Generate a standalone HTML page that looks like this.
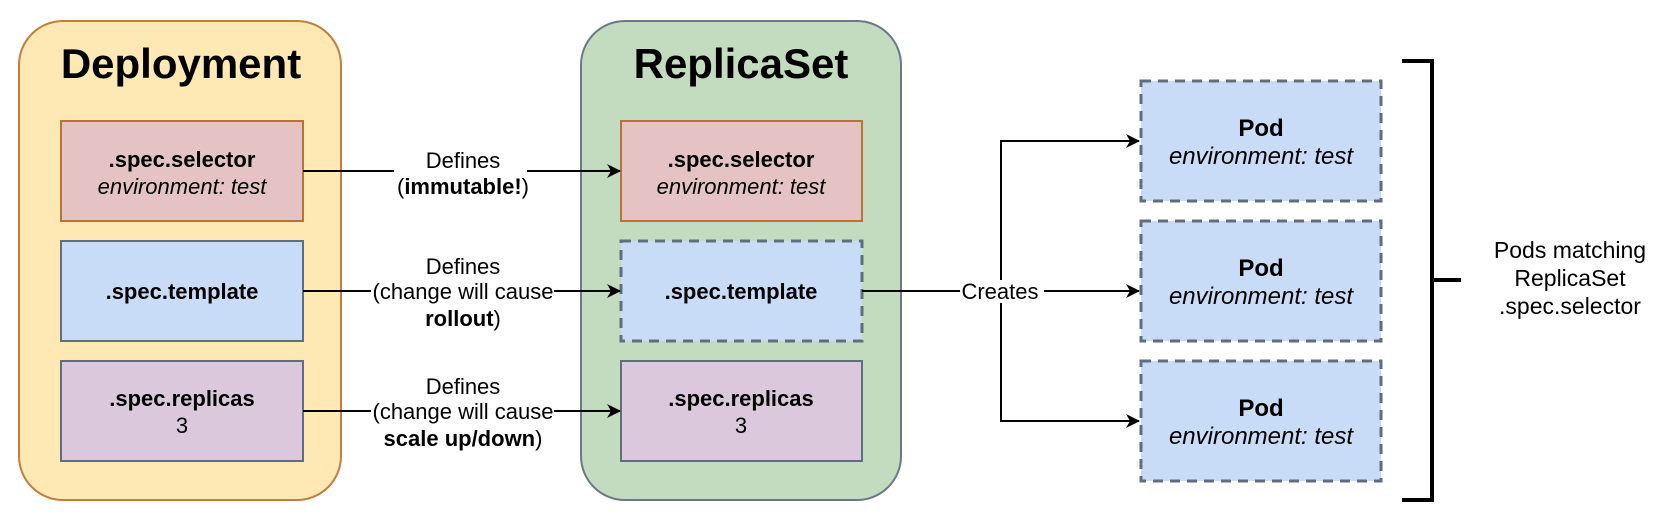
<!DOCTYPE html>
<html><head><meta charset="utf-8"><style>
html,body{margin:0;padding:0;background:#fff;}
svg{display:block;font-family:"Liberation Sans",Arial,sans-serif;}
</style></head><body>
<svg width="1670" height="524" viewBox="0 0 1670 524" xmlns="http://www.w3.org/2000/svg">
<defs>
<marker id="ar" markerWidth="14" markerHeight="14" refX="13" refY="7" orient="auto" markerUnits="userSpaceOnUse">
<path d="M0,0 L14,7 L0,14 L4,7 Z" fill="#000"/>
</marker>
</defs>
<!-- Deployment -->
<rect x="19" y="21" width="322" height="479" rx="44" fill="#fee8b4" stroke="#c47d3c" stroke-width="2"/>
<text x="181" y="78" font-size="42" font-weight="bold" text-anchor="middle">Deployment</text>
<rect x="61" y="121" width="242" height="100" fill="#e5c2c4" stroke="#b8733a" stroke-width="2"/>
<text x="182" y="167" font-size="22" font-weight="bold" text-anchor="middle">.spec.selector</text>
<text x="182" y="194" font-size="22" font-style="italic" text-anchor="middle">environment: test</text>
<rect x="61" y="241" width="242" height="100" fill="#c9dcf7" stroke="#5f6e7e" stroke-width="2"/>
<text x="182" y="299" font-size="22" font-weight="bold" text-anchor="middle">.spec.template</text>
<rect x="61" y="361" width="242" height="100" fill="#dcc8dd" stroke="#5f6e7e" stroke-width="2"/>
<text x="182" y="406" font-size="22" font-weight="bold" text-anchor="middle">.spec.replicas</text>
<text x="182" y="433" font-size="22" text-anchor="middle">3</text>

<!-- ReplicaSet -->
<rect x="581" y="21" width="320" height="479" rx="44" fill="#c3dcc0" stroke="#6b7887" stroke-width="2"/>
<text x="741" y="78" font-size="42" font-weight="bold" text-anchor="middle">ReplicaSet</text>
<rect x="621" y="121" width="241" height="100" fill="#e5c2c4" stroke="#b8733a" stroke-width="2"/>
<text x="741" y="167" font-size="22" font-weight="bold" text-anchor="middle">.spec.selector</text>
<text x="741" y="194" font-size="22" font-style="italic" text-anchor="middle">environment: test</text>
<rect x="621" y="241" width="241" height="100" fill="#c9dcf7" stroke="#5f6e7e" stroke-width="3" stroke-dasharray="10,7"/>
<text x="741" y="299" font-size="22" font-weight="bold" text-anchor="middle">.spec.template</text>
<rect x="621" y="361" width="241" height="100" fill="#dcc8dd" stroke="#5f6e7e" stroke-width="2"/>
<text x="741" y="406" font-size="22" font-weight="bold" text-anchor="middle">.spec.replicas</text>
<text x="741" y="433" font-size="22" text-anchor="middle">3</text>

<!-- Defines connectors -->
<g stroke="#000" stroke-width="2" fill="none">
<path d="M303,171 H394"/><path d="M527,171 H620" marker-end="url(#ar)"/>
<path d="M303,291 H371"/><path d="M554,291 H620" marker-end="url(#ar)"/>
<path d="M303,411 H371"/><path d="M554,411 H620" marker-end="url(#ar)"/>
</g>
<g font-size="22" text-anchor="middle">
<text x="463" y="168">Defines</text>
<text x="463" y="194">(<tspan font-weight="bold">immutable!</tspan>)</text>
<text x="463" y="274">Defines</text>
<text x="463" y="299">(change will cause</text>
<text x="463" y="326"><tspan font-weight="bold">rollout</tspan>)</text>
<text x="463" y="394">Defines</text>
<text x="463" y="419">(change will cause</text>
<text x="463" y="446"><tspan font-weight="bold">scale up/down</tspan>)</text>
</g>

<!-- Creates -->
<g stroke="#000" stroke-width="2" fill="none">
<path d="M862,291 H960"/>
<path d="M1001,280 V141 H1139" marker-end="url(#ar)"/>
<path d="M1001,303 V421 H1139" marker-end="url(#ar)"/>
<path d="M1044,291 H1139" marker-end="url(#ar)"/>
</g>
<text x="1000" y="299" font-size="22" text-anchor="middle">Creates</text>

<!-- Pods -->
<g stroke="#5f6e7e" stroke-width="3" stroke-dasharray="10,7" fill="#c9dcf7">
<rect x="1141" y="81" width="240" height="120"/>
<rect x="1141" y="221" width="240" height="120"/>
<rect x="1141" y="361" width="240" height="120"/>
</g>
<g font-size="24" text-anchor="middle">
<text x="1261" y="136" font-weight="bold">Pod</text>
<text x="1261" y="164" font-style="italic">environment: test</text>
<text x="1261" y="276" font-weight="bold">Pod</text>
<text x="1261" y="304" font-style="italic">environment: test</text>
<text x="1261" y="416" font-weight="bold">Pod</text>
<text x="1261" y="444" font-style="italic">environment: test</text>
</g>

<!-- Bracket -->
<path d="M1402,61 H1432 V500 H1402 M1432,280 H1461" stroke="#000" stroke-width="4" fill="none"/>
<g font-size="23" text-anchor="middle">
<text x="1570" y="258">Pods matching</text>
<text x="1570" y="286">ReplicaSet</text>
<text x="1570" y="314">.spec.selector</text>
</g>
</svg>
</body></html>
